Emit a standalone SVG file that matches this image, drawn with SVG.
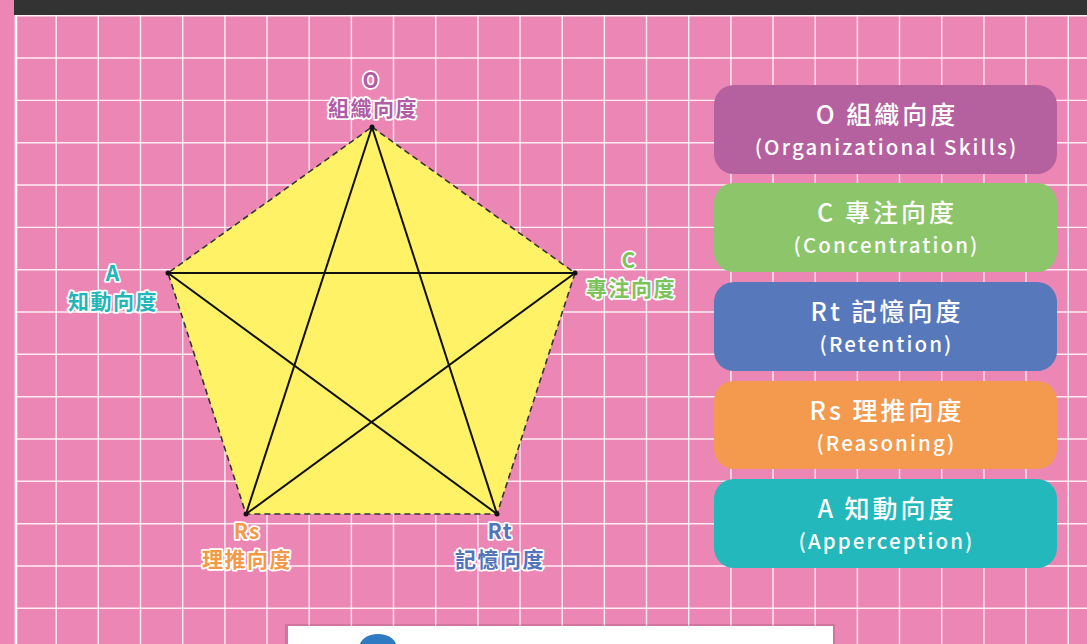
<svg xmlns="http://www.w3.org/2000/svg" width="1087" height="644" viewBox="0 0 1087 644">
<style>
.grid{stroke:#fff;stroke-width:1.4;fill:none;opacity:0.85}
.lbl{font-family:"Noto Sans CJK TC","Noto Sans",sans-serif;font-weight:700;text-anchor:middle;stroke:#fff;stroke-width:3.5;stroke-linejoin:round;paint-order:stroke}
.l1{font-size:21px;letter-spacing:1px}
.l2{font-size:21px;letter-spacing:1.5px}
.box text{font-family:"Noto Sans CJK TC","Noto Sans",sans-serif;fill:#fff;text-anchor:middle}
.t1{font-size:25px;font-weight:500;letter-spacing:3px}
.t2{font-size:20.5px;font-weight:500;letter-spacing:2.1px}
.star{stroke:#111;stroke-width:2;fill:none}
</style>
<rect x="0" y="0" width="1087" height="644" fill="#EC87B5"/>
<rect x="14" y="0" width="1073" height="15" fill="#333333"/>
<g id="grid">
<path class="grid" d="M56.2 15V644M98.3 15V644M140.5 15V644M182.7 15V644M224.9 15V644M267 15V644M309.2 15V644M351.4 15V644M393.5 15V644M435.7 15V644M477.9 15V644M520 15V644M562.2 15V644M604.4 15V644M646.5 15V644M688.7 15V644M730.9 15V644M773 15V644M815.2 15V644M857.4 15V644M899.5 15V644M941.7 15V644M983.9 15V644M1026 15V644M1068.2 15V644"/>
<path class="grid" d="M15 15.7H1087M15 58H1087M15 100.4H1087M15 142.7H1087M15 185H1087M15 227.4H1087M15 269.7H1087M15 312H1087M15 354.3H1087M15 396.7H1087M15 439H1087M15 481.3H1087M15 523.7H1087M15 566H1087M15 608.3H1087"/>
<line x1="16" y1="15" x2="16" y2="644" stroke="#fff" stroke-width="2.6"/>
</g>
<g id="pentagon">
<polygon points="372,127 575,273 497,514 246,514 168,273" fill="#FFF266" stroke="#333" stroke-width="1.6" stroke-dasharray="6,4"/>
</g>
<g id="connectors">
<line class="star" x1="372" y1="127" x2="246" y2="514"/>
<line class="star" x1="372" y1="127" x2="497" y2="514"/>
<line class="star" x1="168" y1="273" x2="575" y2="273"/>
<line class="star" x1="168" y1="273" x2="497" y2="514"/>
<line class="star" x1="575" y1="273" x2="246" y2="514"/>
</g>
<g id="vertex-O">
<circle cx="372" cy="127" r="2.5" fill="#111"/>
<text class="lbl l1" x="371" y="88" fill="#B05DA6">O</text>
<text class="lbl l2" x="373" y="116" fill="#B05DA6">組織向度</text>
</g>
<g id="vertex-C">
<circle cx="575" cy="273" r="2.5" fill="#111"/>
<text class="lbl l1" x="629" y="268" fill="#7DC35B">C</text>
<text class="lbl l2" x="631" y="296" fill="#7DC35B">專注向度</text>
</g>
<g id="vertex-Rt">
<circle cx="497" cy="514" r="2.5" fill="#111"/>
<text class="lbl l1" x="500" y="539" fill="#5373BA">Rt</text>
<text class="lbl l2" x="500" y="567" fill="#5373BA">記憶向度</text>
</g>
<g id="vertex-Rs">
<circle cx="246" cy="514" r="2.5" fill="#111"/>
<text class="lbl l1" x="247" y="539" fill="#F39A48">Rs</text>
<text class="lbl l2" x="247" y="567" fill="#F39A48">理推向度</text>
</g>
<g id="vertex-A">
<circle cx="168" cy="273" r="2.5" fill="#111"/>
<text class="lbl l1" x="113" y="281" fill="#23B6B9">A</text>
<text class="lbl l2" x="113" y="309" fill="#23B6B9">知動向度</text>
</g>
<g id="box-O" class="box">
<rect x="714" y="85" width="343" height="89" rx="20" fill="#B5609F"/>
<text class="t1" x="887" y="124">O 組織向度</text>
<text class="t2" x="886.5" y="155">(Organizational Skills)</text>
</g>
<g id="box-C" class="box">
<rect x="714" y="183" width="343" height="89" rx="20" fill="#8CC56A"/>
<text class="t1" x="887" y="222">C 專注向度</text>
<text class="t2" x="886.5" y="253">(Concentration)</text>
</g>
<g id="box-Rt" class="box">
<rect x="714" y="282" width="343" height="89" rx="20" fill="#5778BB"/>
<text class="t1" x="887" y="321">Rt 記憶向度</text>
<text class="t2" x="886.5" y="352">(Retention)</text>
</g>
<g id="box-Rs" class="box">
<rect x="714" y="381" width="343" height="88" rx="20" fill="#F39A4F"/>
<text class="t1" x="887" y="420">Rs 理推向度</text>
<text class="t2" x="886.5" y="451">(Reasoning)</text>
</g>
<g id="box-A" class="box">
<rect x="714" y="479" width="343" height="89" rx="20" fill="#23B8BB"/>
<text class="t1" x="887" y="518">A 知動向度</text>
<text class="t2" x="886.5" y="549">(Apperception)</text>
</g>
<g id="bottom-card">
<rect x="285" y="624" width="550" height="22" fill="#000" opacity="0.12"/>
<rect x="288" y="626" width="545" height="20" fill="#fff"/>
<ellipse cx="378" cy="648" rx="19" ry="14" fill="#2E7BC4"/>
</g>
</svg>
